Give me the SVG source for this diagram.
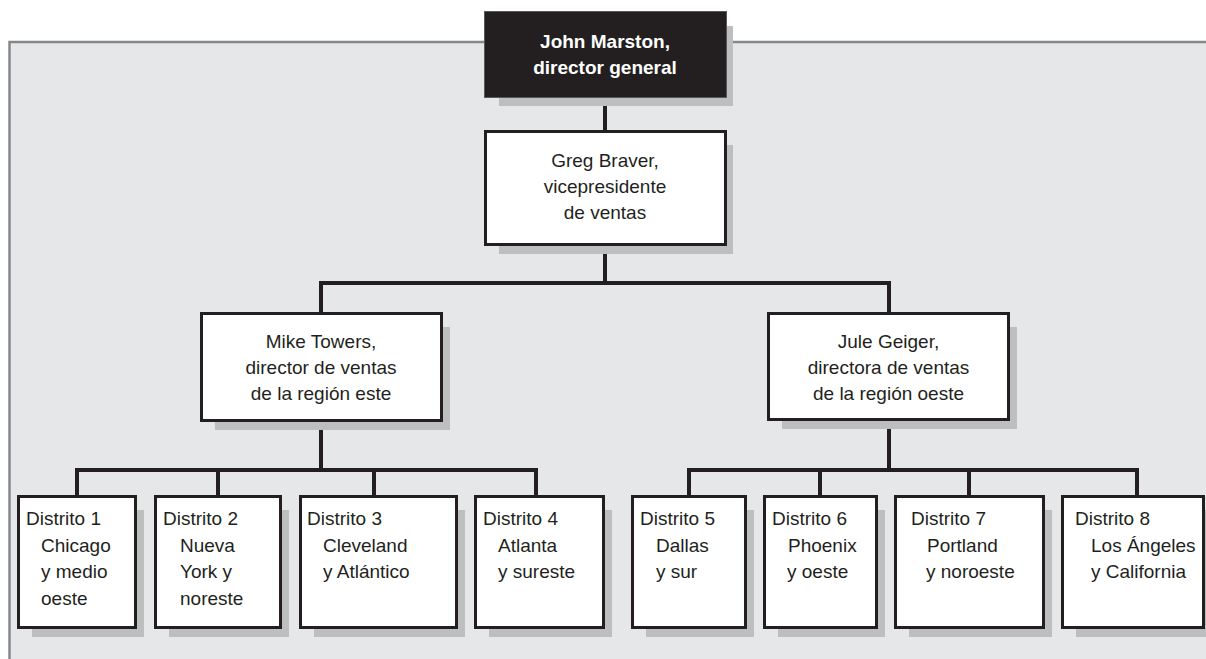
<svg xmlns="http://www.w3.org/2000/svg" width="1206" height="659" viewBox="0 0 1206 659">
<style>
.shadow{fill:#bcbec0}
.box{fill:#ffffff;stroke:#231f20;stroke-width:3}
.dark{fill:#231f20;stroke:#58595b;stroke-width:1}
.t{font-family:"Liberation Sans",Arial,sans-serif;font-size:19px;fill:#231f20}
.c{text-anchor:middle}
.w{fill:#ffffff;font-weight:bold}
.conn{fill:none;stroke:#231f20;stroke-width:4;stroke-linejoin:miter;stroke-linecap:square}
</style>
<rect x="9" y="42" width="1197" height="617" fill="#e6e7e8"/>
<path d="M9.5,659 V42 H1206" fill="none" stroke="#87888a" stroke-width="2.5"/>
<g id="connectors">
<path class="conn" d="M605,98 V130"/>
<path class="conn" d="M605,246 V283"/>
<path class="conn" d="M321,312 V283 H889 V312"/>
<path class="conn" d="M321,422 V470"/>
<path class="conn" d="M77,495 V470 H536 V495 M218,470 V495 M374,470 V495"/>
<path class="conn" d="M889,421 V470"/>
<path class="conn" d="M689,495 V470 H1137 V495 M820,470 V495 M969,470 V495"/>
</g>
<g id="n-marston">
<rect class="shadow" x="499" y="26" width="234" height="80"/>
<rect class="dark" x="484.5" y="11.5" width="242" height="86"/>
<text class="t c w" x="605" y="48">John Marston,</text>
<text class="t c w" x="605" y="74">director general</text>
</g>
<g id="n-braver">
<rect class="shadow" x="499" y="145" width="234" height="109"/>
<rect class="box" x="485.5" y="131.5" width="240" height="113"/>
<text class="t c" x="605" y="167">Greg Braver,</text>
<text class="t c" x="605" y="193">vicepresidente</text>
<text class="t c" x="605" y="219">de ventas</text>
</g>
<g id="n-towers">
<rect class="shadow" x="215" y="327" width="235" height="103"/>
<rect class="box" x="201.5" y="313.5" width="240" height="107"/>
<text class="t c" x="321" y="348">Mike Towers,</text>
<text class="t c" x="321" y="374">director de ventas</text>
<text class="t c" x="321" y="400">de la región este</text>
</g>
<g id="n-geiger">
<rect class="shadow" x="782" y="327" width="235" height="102"/>
<rect class="box" x="768.5" y="313.5" width="240" height="106"/>
<text class="t c" x="888.5" y="348">Jule Geiger,</text>
<text class="t c" x="888.5" y="374">directora de ventas</text>
<text class="t c" x="888.5" y="400">de la región oeste</text>
</g>
<g id="n-d1">
<rect class="shadow" x="32" y="510" width="112" height="127"/>
<rect class="box" x="18.5" y="496.5" width="117" height="131"/>
<text class="t" x="26" y="525">Distrito 1</text>
<text class="t" x="41" y="551.5">Chicago</text>
<text class="t" x="41" y="578">y medio</text>
<text class="t" x="41" y="604.5">oeste</text>
</g>
<g id="n-d2">
<rect class="shadow" x="169" y="510" width="120" height="127"/>
<rect class="box" x="155.5" y="496.5" width="125" height="131"/>
<text class="t" x="163" y="525">Distrito 2</text>
<text class="t" x="180" y="551.5">Nueva</text>
<text class="t" x="180" y="578">York y</text>
<text class="t" x="180" y="604.5">noreste</text>
</g>
<g id="n-d3">
<rect class="shadow" x="314" y="510" width="151" height="127"/>
<rect class="box" x="300.5" y="496.5" width="156" height="131"/>
<text class="t" x="307" y="525">Distrito 3</text>
<text class="t" x="323" y="551.5">Cleveland</text>
<text class="t" x="323" y="578">y Atlántico</text>
</g>
<g id="n-d4">
<rect class="shadow" x="489" y="510" width="123" height="127"/>
<rect class="box" x="475.5" y="496.5" width="128" height="131"/>
<text class="t" x="483" y="525">Distrito 4</text>
<text class="t" x="498" y="551.5">Atlanta</text>
<text class="t" x="498" y="578">y sureste</text>
</g>
<g id="n-d5">
<rect class="shadow" x="646" y="510" width="108" height="127"/>
<rect class="box" x="632.5" y="496.5" width="113" height="131"/>
<text class="t" x="640" y="525">Distrito 5</text>
<text class="t" x="656" y="551.5">Dallas</text>
<text class="t" x="656" y="578">y sur</text>
</g>
<g id="n-d6">
<rect class="shadow" x="778" y="510" width="107" height="127"/>
<rect class="box" x="764.5" y="496.5" width="112" height="131"/>
<text class="t" x="772" y="525">Distrito 6</text>
<text class="t" x="788" y="551.5">Phoenix</text>
<text class="t" x="787" y="578">y oeste</text>
</g>
<g id="n-d7">
<rect class="shadow" x="909" y="510" width="143" height="127"/>
<rect class="box" x="895.5" y="496.5" width="148" height="131"/>
<text class="t" x="911" y="525">Distrito 7</text>
<text class="t" x="927" y="551.5">Portland</text>
<text class="t" x="926" y="578">y noroeste</text>
</g>
<g id="n-d8">
<rect class="shadow" x="1076" y="510" width="136" height="127"/>
<rect class="box" x="1062.5" y="496.5" width="141" height="131"/>
<text class="t" x="1075" y="525">Distrito 8</text>
<text class="t" x="1091" y="551.5">Los Ángeles</text>
<text class="t" x="1091" y="578">y California</text>
</g>
</svg>
